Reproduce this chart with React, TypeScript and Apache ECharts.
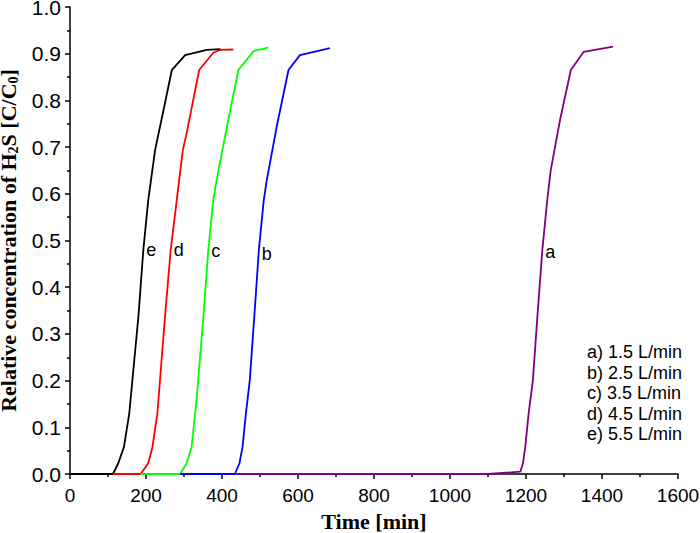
import React, { useEffect, useRef } from "react";
import * as echarts from "echarts";

// Curve e (5.5 L/min)
const timeE = [0, 113, 127, 142, 156, 180, 193, 206, 224, 246, 268, 303, 360, 396];
const concE = [0, 0, 0.023, 0.058, 0.13, 0.337, 0.48, 0.587, 0.694, 0.779, 0.865, 0.897, 0.908, 0.91];
// Curve d (4.5 L/min)
const timeD = [113, 186, 206, 217, 230, 250, 265, 281, 297, 307, 340, 377, 395, 430];
const concD = [0, 0, 0.023, 0.058, 0.13, 0.337, 0.48, 0.587, 0.694, 0.73, 0.865, 0.902, 0.908, 0.909];
// Curve c (3.5 L/min)
const timeC = [186, 290, 307, 320, 333, 351, 364, 377, 386, 413, 443, 484, 522];
const concC = [0, 0, 0.023, 0.058, 0.158, 0.337, 0.48, 0.587, 0.63, 0.744, 0.865, 0.906, 0.913];
// Curve b (2.5 L/min)
const timeB = [290, 434, 446, 454, 463, 473, 485, 497, 510, 518, 544, 575, 605, 684];
const concB = [0, 0, 0.023, 0.058, 0.13, 0.2, 0.337, 0.48, 0.587, 0.63, 0.744, 0.865, 0.897, 0.912];
// Curve a (1.5 L/min)
const timeA = [434, 1100, 1185, 1192, 1198, 1207, 1218, 1230, 1243, 1256, 1265, 1290, 1318, 1352, 1429];
const concA = [0, 0, 0.005, 0.023, 0.058, 0.13, 0.2, 0.337, 0.48, 0.587, 0.65, 0.76, 0.865, 0.904, 0.915];

const seriesNames = ["e) 5.5 L/min", "d) 4.5 L/min", "c) 3.5 L/min", "b) 2.5 L/min", "a) 1.5 L/min"];
const legendOrder = ["a) 1.5 L/min", "b) 2.5 L/min", "c) 3.5 L/min", "d) 4.5 L/min", "e) 5.5 L/min"];
const seriesColors = ["#000000", "#ff0000", "#00ff00", "#0000ff", "#800080"];

// curve letter labels placed at points on the curves
const labelLetters = ["e", "d", "c", "b", "a"];
const labelTimes = [193, 265, 364, 497, 1243];
const labelConc = [0.48, 0.48, 0.477, 0.471, 0.475];

const xTicks = { min: 0, max: 1600, interval: 200 };
const yTicks = { min: 0, max: 1, interval: 0.1 };

const App: React.FC = () => {
  const ref = useRef<HTMLDivElement>(null);

  useEffect(() => {
    if (!ref.current) return;
    const chart = echarts.init(ref.current, undefined, { renderer: "svg" });
    const times = [timeE, timeD, timeC, timeB, timeA];
    const concs = [concE, concD, concC, concB, concA];
    const sans = "'Liberation Sans', Arial, sans-serif";
    const serif = "'Liberation Serif', 'Times New Roman', serif";

    const series = seriesNames.map((name, i) => ({
      name,
      type: "line",
      data: times[i].map((t, j) => [t, concs[i][j]]),
      showSymbol: false,
      symbol: "none",
      smooth: false,
      lineStyle: { color: seriesColors[i], width: 1.8 },
      itemStyle: { color: seriesColors[i] },
      markPoint: {
        symbol: "circle",
        symbolSize: 0,
        silent: true,
        data: [{ coord: [labelTimes[i], labelConc[i]] }],
        label: {
          show: true,
          position: "right",
          distance: 3,
          formatter: labelLetters[i],
          color: "#000",
          fontSize: 18,
          fontFamily: sans,
        },
      },
    }));

    chart.setOption({
      animation: false,
      backgroundColor: "#ffffff",
      grid: { left: 70, right: 22, top: 7, bottom: 59, containLabel: false, outerBoundsMode: "none" },
      legend: {
        data: legendOrder,
        orient: "vertical",
        left: 577,
        top: 337,
        itemWidth: 0,
        itemHeight: 0,
        itemGap: 0.6,
        icon: "rect",
        selectedMode: false,
        textStyle: { color: "#000", fontSize: 18, fontFamily: sans, lineHeight: 20 },
      },
      xAxis: {
        type: "value",
        min: xTicks.min,
        max: xTicks.max,
        interval: xTicks.interval,
        name: "Time [min]",
        nameLocation: "middle",
        nameGap: 36,
        nameTextStyle: { color: "#000", fontSize: 22, fontWeight: "bold", fontFamily: serif },
        axisLine: { show: true, onZero: false, lineStyle: { color: "#000", width: 1.5 } },
        axisTick: { show: true, inside: false, length: 5, lineStyle: { color: "#000", width: 1.5 } },
        minorTick: { show: true, splitNumber: 2, length: 3, lineStyle: { color: "#000", width: 1.5 } },
        splitLine: { show: false },
        axisLabel: {
          color: "#000",
          fontSize: 19,
          fontFamily: sans,
          margin: 12,
          formatter: (v: number) => String(v),
        },
      },
      yAxis: {
        type: "value",
        min: yTicks.min,
        max: yTicks.max,
        interval: yTicks.interval,
        name: "{n|Relative concentration of H}{s|2}{n|S [C/C}{s|0}{n|]}",
        nameLocation: "middle",
        nameGap: 45,
        nameTextStyle: {
          rich: {
            n: { color: "#000", fontSize: 22, fontWeight: "bold", fontFamily: serif, lineHeight: 24, verticalAlign: "middle" },
            s: { color: "#000", fontSize: 14, fontWeight: "bold", fontFamily: serif, lineHeight: 12, verticalAlign: "bottom" },
          },
        },
        axisLine: { show: true, onZero: false, lineStyle: { color: "#000", width: 1.5 } },
        axisTick: { show: true, inside: false, length: 5, lineStyle: { color: "#000", width: 1.5 } },
        minorTick: { show: true, splitNumber: 2, length: 3, lineStyle: { color: "#000", width: 1.5 } },
        splitLine: { show: false },
        axisLabel: {
          color: "#000",
          fontSize: 21,
          fontFamily: sans,
          margin: 9,
          formatter: (v: number) => v.toFixed(1),
        },
      },
      series,
    });

    return () => chart.dispose();
  }, []);

  return (
    <div
      ref={ref}
      style={{ position: "fixed", left: 0, top: 0, width: 700, height: 533, background: "#fff" }}
    />
  );
};

export default App;
